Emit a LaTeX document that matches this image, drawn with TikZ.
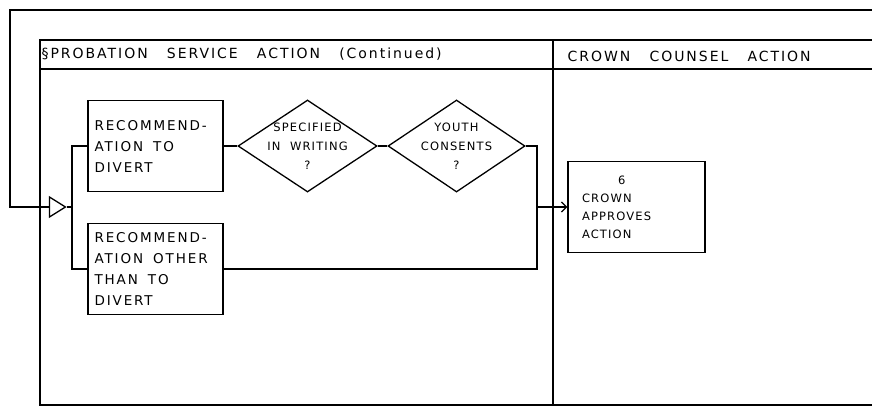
\documentclass[tikz,border=0pt]{standalone}
\usepackage{fontspec}
\newfontfamily\handfont{DejaVu Sans}[LetterSpace=14, WordSpace=3]
\newfontfamily\handsmall{DejaVu Sans}[LetterSpace=10, WordSpace=2]
\newcommand\wgap{\hspace*{10pt}}
\usetikzlibrary{shapes.geometric,arrows.meta}

\begin{document}
\begin{tikzpicture}[x=1pt, y=-1pt, line width=1.3pt,
    stepbox/.style={draw, rectangle, minimum width=135pt, minimum height=91pt,
        inner sep=0pt, text width=122pt, align=left,
        font=\handfont\fontsize{13.5}{21}\selectfont},
    decision/.style={draw, diamond, minimum width=139pt, minimum height=92pt, inner sep=0pt},
    asktext/.style={align=center, font=\handsmall\fontsize{11.5}{19}\selectfont},
    header/.style={anchor=west, inner sep=0pt, font=\handfont\fontsize{14}{16}\selectfont}]
    \useasboundingbox (0,0) rectangle (872,408);

    % lanes
    \draw (872,40) -- (40,40) -- (40,405) -- (872,405);
    \draw (40,69) -- (872,69);
    \draw (553,40) -- (553,405);
    \node[header] (probation) at (41,54) {\S PROBATION SERVICE ACTION (Continued)};
    \node[header] (crown) at (567,56) {CROWN COUNSEL ACTION};

    % entry from the previous page
    \coordinate (loopend) at (872,10);
    \coordinate (loopcorner) at (10,10);
    \node[draw, isosceles triangle, isosceles triangle stretches, minimum width=20pt,
          minimum height=16pt, inner sep=0pt] (entry) at (55,207) {};
    \coordinate (fork) at (72,207);

    \node[stepbox] (divert) at (155.5,146) {RECOMMEND-\\ATION\wgap TO\\DIVERT};
    \node[stepbox] (other) at (155.5,269) {RECOMMEND-\\ATION\wgap OTHER\\THAN\wgap TO\\DIVERT};

    \node[decision, label={[asktext]center:SPECIFIED\\IN WRITING\\?}] (written) at (307.5,146) {};
    \node[decision, minimum width=137pt, label={[asktext]center:YOUTH\\CONSENTS\\?}] (consent) at (456.5,146) {};

    \node[stepbox, minimum width=137pt, text width=109pt,
          font=\handsmall\fontsize{11.5}{18}\selectfont] (approve) at (636.5,207)
          {\hspace*{36pt}6\\CROWN\\APPROVES\\ACTION};
    \coordinate (merge) at (537,207);

    \draw (loopend) -- (loopcorner) |- (entry.west);
    \draw (entry.east) -- (fork);
    \draw (fork) |- (divert.west);
    \draw (fork) |- (other.west);
    \draw (divert.east) -- (written.west);
    \draw (written.east) -- (consent.west);
    \draw (consent.east) -| (merge);
    \draw (other.east) -| (merge);
    \draw[-{Straight Barb[length=5pt,width=10pt]}] (merge) -- (approve.west);
\end{tikzpicture}
\end{document}
